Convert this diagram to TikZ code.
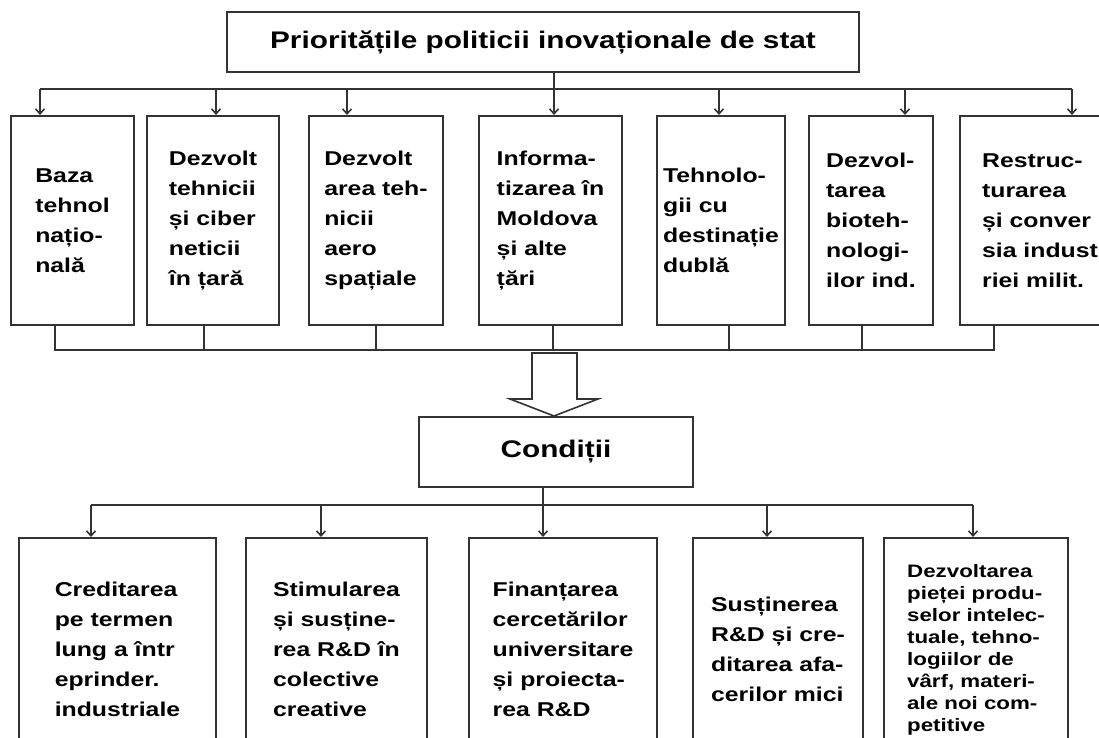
\documentclass[tikz,border=0pt]{standalone}
\usepackage{fontspec}
\setmainfont{Liberation Sans}[FakeStretch=1.24]
\usetikzlibrary{arrows.meta}
\definecolor{linegray}{HTML}{333333}

\begin{document}
\begin{tikzpicture}[x=0.5pt,y=-0.5pt,
  box/.style={draw=linegray, line width=1pt, inner sep=2pt},
  headbox/.style={box, font=\bfseries\fontsize{12}{14}\selectfont},
  prio/.style={box, anchor=north, minimum height=104.5pt, align=left, font=\bfseries\fontsize{10}{15}\selectfont},
  cond/.style={box, anchor=north, minimum height=111.5pt, align=left, font=\bfseries\fontsize{10}{15}\selectfont},
  wire/.style={draw=linegray, line width=0.8pt},
  feed/.style={wire, -{Straight Barb[length=2.5pt,width=4.5pt]}}]

\clip (0,0) rectangle (1099,738);

% top level
\path (543,42) node[headbox, minimum width=316pt, minimum height=30pt](prio-title) {Prioritățile politicii inovaționale de stat};

% priorities
\path (72.5,115) node[prio, minimum width=61.5pt](baza) {Baza\\tehnol\\națio-\\nală};
\path (213,115) node[prio, minimum width=66pt](cibernetica) {Dezvolt\\tehnicii\\și ciber\\neticii\\în țară};
\path (376,115) node[prio, minimum width=67pt](aerospatial) {Dezvolt\\area teh-\\nicii\\aero\\spațiale};
\path (550.5,115) node[prio, minimum width=71.5pt](informatizare) {Informa-\\tizarea în\\Moldova\\și alte\\țări};
\path (721,115) node[prio, minimum width=64pt](dubla) {Tehnolo-\\gii cu\\destinație\\dublă};
\path (871,115) node[prio, minimum width=62pt](biotehno) {Dezvol-\\tarea\\bioteh-\\nologi-\\ilor ind.};
\path (1040,115) node[prio, minimum width=80pt](conversie) {Restruc-\\turarea\\și conver\\sia indust\\riei milit.};

% distribution bar
\coordinate (t1) at (40,89);
\coordinate (t2) at (216,89);
\coordinate (t3) at (347,89);
\coordinate (t4) at (554,89);
\coordinate (t5) at (719,89);
\coordinate (t6) at (905,89);
\coordinate (t7) at (1072,89);
\draw[wire] (prio-title.south -| t4) -- (t4);
\draw[wire] (t1) -- (t7);
\draw[feed] (t1) -- (t1 |- baza.north);
\draw[feed] (t2) -- (t2 |- cibernetica.north);
\draw[feed] (t3) -- (t3 |- aerospatial.north);
\draw[feed] (t4) -- (t4 |- informatizare.north);
\draw[feed] (t5) -- (t5 |- dubla.north);
\draw[feed] (t6) -- (t6 |- biotehno.north);
\draw[feed] (t7) -- (t7 |- conversie.north);

% collecting bar
\coordinate (s1) at (55,350);
\coordinate (s2) at (204,350);
\coordinate (s3) at (376,350);
\coordinate (s4) at (553,350);
\coordinate (s5) at (729,350);
\coordinate (s6) at (862,350);
\coordinate (s7) at (994,350);
\draw[wire] (s1 |- baza.south) -- (s1) -- (s7) -- (s7 |- conversie.south);
\draw[wire] (s2 |- cibernetica.south) -- (s2);
\draw[wire] (s3 |- aerospatial.south) -- (s3);
\draw[wire] (s4 |- informatizare.south) -- (s4);
\draw[wire] (s5 |- dubla.south) -- (s5);
\draw[wire] (s6 |- biotehno.south) -- (s6);

% conditions
\path (556,452) node[headbox, minimum width=137pt, minimum height=35pt](conditii) {Condiții};

% hollow arrow
\draw[wire, fill=white] (532,353) -- (577,353) -- (577,399) -- (598,399) -- (conditii.north -| 554,0) -- (510,399) -- (532,399) -- cycle;

\path (117.5,537) node[cond, minimum width=98.5pt](creditare) {Creditarea\\pe termen\\lung a într\\eprinder.\\industriale};
\path (336.5,537) node[cond, minimum width=90.5pt](stimulare) {Stimularea\\și susține-\\rea R\&D în\\colective\\creative};
\path (563,537) node[cond, minimum width=94pt](finantare) {Finanțarea\\cercetărilor\\universitare\\și proiecta-\\rea R\&D};
\path (778,537) node[cond, minimum width=85pt](afaceri) {Susținerea\\R\&D și cre-\\ditarea afa-\\cerilor mici};
\path (976,537) node[cond, minimum width=92pt, font=\bfseries\fontsize{9}{11}\selectfont](piata) {Dezvoltarea\\pieței produ-\\selor intelec-\\tuale, tehno-\\logiilor de\\vârf, materi-\\ale noi com-\\petitive};

% condition bar
\coordinate (f1) at (91,505);
\coordinate (f2) at (321,505);
\coordinate (f3) at (543,505);
\coordinate (f4) at (767,505);
\coordinate (f5) at (973,505);
\draw[wire] (conditii.south -| f3) -- (f3);
\draw[wire] (f1) -- (f5);
\draw[feed] (f1) -- (f1 |- creditare.north);
\draw[feed] (f2) -- (f2 |- stimulare.north);
\draw[feed] (f3) -- (f3 |- finantare.north);
\draw[feed] (f4) -- (f4 |- afaceri.north);
\draw[feed] (f5) -- (f5 |- piata.north);

\end{tikzpicture}
\end{document}
